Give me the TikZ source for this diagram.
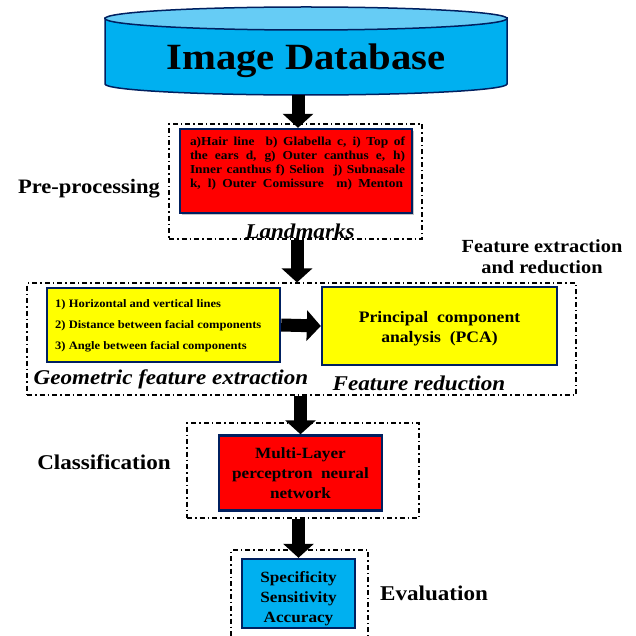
\documentclass[tikz,border=0pt]{standalone}
\usepackage{fontspec}
\setmainfont{Liberation Serif}[FakeStretch=1.1]
\usetikzlibrary{arrows.meta,shadows}

\definecolor{navy}{HTML}{002060}
\definecolor{dbbody}{HTML}{00B0F0}
\definecolor{dbtop}{HTML}{66CCF5}
\definecolor{boxred}{HTML}{FF0000}
\definecolor{boxyellow}{HTML}{FFFF00}

\newcommand{\fsz}[2]{\fontsize{#1}{#2}\selectfont}

\tikzset{
  group/.style={draw=black, line width=1.1pt,
    dash pattern=on 5pt off 3pt on 1.5pt off 3pt, inner sep=0pt},
  block/.style={draw=navy, line width=2.4pt, inner sep=0pt},
  label/.style={font=\bfseries\fsz{21}{24}, inner sep=0pt},
  caption/.style={font=\bfseries\itshape\fsz{21}{24}, inner sep=0pt},
  bigarrow/.style={line width=13pt, -{Triangle[width=30pt,length=14pt]}},
}

\begin{document}
\begin{tikzpicture}[x=1pt,y=-1pt]
\useasboundingbox[fill=white] (0,0) rectangle (636,636);

% database cylinder
\filldraw[fill=dbbody, draw=navy, line width=1.5pt]
  (105,18) -- (105,84) arc[start angle=180, end angle=0, x radius=201, y radius=11]
  -- (507,18) -- cycle;
\filldraw[fill=dbtop, draw=navy, line width=1.5pt]
  (306,18.5) ellipse[x radius=201, y radius=11.5];
\node[inner sep=0pt, font=\bfseries\fsz{37}{40}] (db) at (306,61) {Image Database};
\coordinate (dbbot) at (298,95);

% pre-processing
\node[group, minimum width=253pt, minimum height=115pt] (pre) at (295.5,181.5) {};
\node[block, fill=boxred, minimum width=232pt, minimum height=84pt,
  drop shadow={opacity=0.45, shadow xshift=2pt, shadow yshift=-2pt}] (lm) at (296,171) {};
\node[inner sep=0pt, font=\bfseries\fsz{12.2}{14}, align=left] (lmtxt) at (297.5,164)
  {\makebox[215pt][s]{a)Hair line \ b) Glabella c, i) Top of}\\
   \makebox[215pt][s]{the ears d, g) Outer canthus e, h)}\\
   \makebox[215pt][s]{Inner canthus f) Selion \ j) Subnasale}\\
   \makebox[213pt][s]{k, l) Outer Comissure \ m) Menton}};
\node[caption] (lmcap) at (300,231) {Landmarks};
\node[label, font=\bfseries\fsz{20.5}{24}] (prelab) at (89,189) {Pre-processing};

% feature extraction and reduction
\node[label, font=\bfseries\fsz{18.5}{21}, align=center] (felab) at (542,257)
  {Feature extraction\\and reduction};
\node[group, minimum width=549pt, minimum height=112pt] (fe) at (301.5,339) {};
\node[block, fill=boxyellow, minimum width=233pt, minimum height=74pt] (geo) at (163.5,325) {};
\node[anchor=west, inner sep=0pt, font=\bfseries\fsz{11.4}{21}, align=left] (geotxt) at (55,326)
  {1) Horizontal and vertical lines\\
   2) Distance between facial components\\
   3) Angle between facial components};
\node[caption] (geocap) at (171,379) {Geometric feature extraction};
\node[block, fill=boxyellow, minimum width=235pt, minimum height=78pt] (pca) at (439.5,326) {};
\node[inner sep=0pt, font=\bfseries\fsz{16}{20}, align=center] (pcatxt) at (439.5,329)
  {Principal \ component\\analysis \ (PCA)};
\node[caption] (pcacap) at (419,383) {Feature reduction};

% classification
\node[group, minimum width=232pt, minimum height=95pt] (cls) at (303,470.5) {};
\node[block, fill=boxred, minimum width=163pt, minimum height=75pt,
  font=\bfseries\fsz{15.6}{20}, align=center] (mlp) at (300.5,473)
  {Multi-Layer\\perceptron \ neural\\network};
\node[label] (clslab) at (104,462) {Classification};

% evaluation
\node[group, minimum width=137pt, minimum height=95pt] (evd) at (299.5,597.5) {};
\node[block, fill=dbbody, minimum width=113pt, minimum height=69pt] (ev) at (298.5,593.5) {};
\node[inner sep=0pt, font=\bfseries\fsz{15.6}{20}, align=center] (evtxt) at (298.5,599)
  {Specificity\\Sensitivity\\Accuracy};
\node[label] (evlab) at (434,593) {Evaluation};

% flow arrows
\draw[bigarrow] (dbbot) -- (dbbot |- lm.north);
\draw[bigarrow] ([xshift=1.5pt]pre.south) -- ([xshift=1.5pt]pre.south |- fe.north);
\draw[bigarrow] (geo.east) -- (pca.west);
\draw[bigarrow] (fe.south -| mlp.north) -- (mlp.north);
\draw[bigarrow] (cls.south -| ev.north) -- (ev.north);
\end{tikzpicture}
\end{document}
